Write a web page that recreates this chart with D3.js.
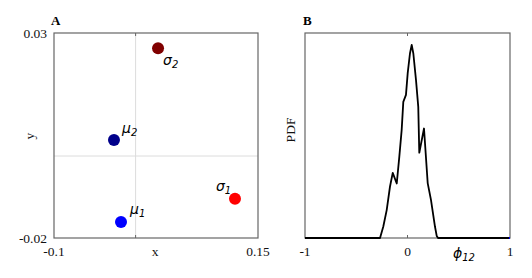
<!DOCTYPE html>
<html>
<head>
<meta charset="utf-8">
<script src="https://cdn.jsdelivr.net/npm/d3@7"></script>
<style>
  body { margin: 0; background: #fff; }
  text { font-family: "Liberation Serif", "DejaVu Serif", serif; }
</style>
</head>
<body>
<script>
// panel A: parameter points
const pointNames = ['σ2', 'μ2', 'σ1', 'μ1'];
const pointX = [0.0275, -0.0265, 0.1218, -0.0179];
const pointY = [0.0263, 0.0039, -0.0104, -0.0161];
const pointColors = ['#800000', '#00008b', '#ff0000', '#0000ff'];

// panel B: PDF of phi12
const phiX = [-1, -0.268, -0.236, -0.203, -0.171, -0.144, -0.105, -0.080, -0.057, -0.041, -0.015, 0.002, 0.024, 0.041, 0.057, 0.083, 0.105, 0.115, 0.161, 0.197, 0.229, 0.268, 0.285, 0.298, 1];
const phiPdf = [0, 0, 0.28, 0.68, 1.25, 1.59, 1.33, 1.98, 2.63, 3.32, 3.49, 4.02, 4.50, 4.71, 4.50, 3.85, 3.20, 2.08, 2.67, 1.34, 0.93, 0.28, 0.05, 0, 0];

const W = 532, H = 278;
const svg = d3.select('body').append('svg')
  .attr('width', W)
  .attr('height', H);

const frameColor = '#666';
const gridColor = '#dcdcdc';

// ---------- panel A ----------
const xA = d3.scaleLinear().domain([-0.1, 0.15]).range([54, 258]);
const yA = d3.scaleLinear().domain([-0.02, 0.03]).range([238, 33]);
const gA = svg.append('g');

gA.append('line')
  .attr('x1', xA(0)).attr('x2', xA(0))
  .attr('y1', yA(0.03)).attr('y2', yA(-0.02))
  .attr('stroke', gridColor);
gA.append('line')
  .attr('x1', xA(-0.1)).attr('x2', xA(0.15))
  .attr('y1', yA(0)).attr('y2', yA(0))
  .attr('stroke', gridColor);

gA.append('rect')
  .attr('x', xA(-0.1)).attr('y', yA(0.03))
  .attr('width', xA(0.15) - xA(-0.1))
  .attr('height', yA(-0.02) - yA(0.03))
  .attr('fill', 'none')
  .attr('stroke', frameColor)
  .attr('stroke-width', 1.2);

// inner ticks at 0
[[yA(-0.02), -3], [yA(0.03), 3]].forEach(([y0, d]) => {
  gA.append('line')
    .attr('x1', xA(0)).attr('x2', xA(0))
    .attr('y1', y0).attr('y2', y0 + d)
    .attr('stroke', frameColor);
});

gA.selectAll('circle')
  .data(pointNames)
  .enter()
  .append('circle')
  .attr('cx', (d, i) => xA(pointX[i]))
  .attr('cy', (d, i) => yA(pointY[i]))
  .attr('r', 6)
  .attr('fill', (d, i) => pointColors[i]);

const labelOffsets = [[5, 17], [8, -7], [-19, -8], [9, -8]];
pointNames.forEach((name, i) => {
  const t = gA.append('text')
    .attr('x', xA(pointX[i]) + labelOffsets[i][0])
    .attr('y', yA(pointY[i]) + labelOffsets[i][1])
    .style('font-family', '"DejaVu Sans", sans-serif')
    .style('font-style', 'italic')
    .style('font-size', '14px');
  t.append('tspan').text(name[0]);
  t.append('tspan').attr('dy', 3).style('font-size', '10px').text(name[1]);
});

const tickStyle = (sel) => sel.style('font-size', '13.5px').attr('fill', '#111');

gA.append('text').attr('x', 47).attr('y', yA(0.03) + 5).attr('text-anchor', 'end').text('0.03').call(tickStyle);
gA.append('text').attr('x', 47).attr('y', yA(-0.02) + 5).attr('text-anchor', 'end').text('-0.02').call(tickStyle);
gA.append('text').attr('x', xA(-0.1)).attr('y', 256).attr('text-anchor', 'middle').text('-0.1').call(tickStyle);
gA.append('text').attr('x', xA(0.15)).attr('y', 256).attr('text-anchor', 'middle').text('0.15').call(tickStyle);
gA.append('text').attr('x', 155).attr('y', 256).attr('text-anchor', 'middle').text('x').call(tickStyle);
gA.append('text')
  .attr('transform', `translate(34, 136) rotate(-90)`)
  .attr('text-anchor', 'middle').text('y').call(tickStyle);
gA.append('text').attr('x', 51).attr('y', 25)
  .style('font-weight', 'bold').style('font-size', '13px').text('A');

// ---------- panel B ----------
const xB = d3.scaleLinear().domain([-1, 1]).range([305, 510]);
const yB = d3.scaleLinear().domain([0, 5]).range([238, 33]);
const gB = svg.append('g');

gB.append('rect')
  .attr('x', xB(-1)).attr('y', yB(5))
  .attr('width', xB(1) - xB(-1))
  .attr('height', yB(0) - yB(5))
  .attr('fill', 'none')
  .attr('stroke', frameColor)
  .attr('stroke-width', 1.2);

[[yB(0), -3], [yB(5), 3]].forEach(([y0, d]) => {
  gB.append('line')
    .attr('x1', xB(0)).attr('x2', xB(0))
    .attr('y1', y0).attr('y2', y0 + d)
    .attr('stroke', frameColor);
});

const line = d3.line()
  .x((d, i) => xB(phiX[i]))
  .y((d) => yB(d));

gB.append('path')
  .datum(phiPdf)
  .attr('d', line)
  .attr('fill', 'none')
  .attr('stroke', '#000')
  .attr('stroke-width', 1.8)
  .attr('stroke-linejoin', 'round');

gB.append('line')
  .attr('x1', xB(0.99)).attr('x2', xB(1))
  .attr('y1', yB(0)).attr('y2', yB(0))
  .attr('stroke', '#0000ff').attr('stroke-width', 2);

gB.append('text').attr('x', xB(-1)).attr('y', 256).attr('text-anchor', 'middle').text('-1').call(tickStyle);
gB.append('text').attr('x', xB(0)).attr('y', 256).attr('text-anchor', 'middle').text('0').call(tickStyle);
gB.append('text').attr('x', xB(1)).attr('y', 256).attr('text-anchor', 'middle').text('1').call(tickStyle);
gB.append('text')
  .attr('transform', `translate(295, 130) rotate(-90)`)
  .attr('text-anchor', 'middle').text('PDF').call(tickStyle);

const phiLabel = gB.append('text')
  .attr('x', 453).attr('y', 258)
  .style('font-family', '"DejaVu Sans", sans-serif')
  .style('font-style', 'italic')
  .style('font-size', '14px');
phiLabel.append('tspan').text('ϕ');
phiLabel.append('tspan').attr('dy', 3).style('font-size', '10px').text('12');

gB.append('text').attr('x', 303).attr('y', 25)
  .style('font-weight', 'bold').style('font-size', '13px').text('B');
</script>
</body>
</html>
